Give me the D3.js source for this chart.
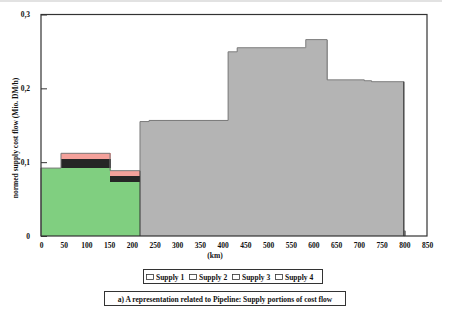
<!DOCTYPE html>
<html>
<head>
<meta charset="utf-8">
<script src="https://cdn.jsdelivr.net/npm/d3@7"></script>
<style>
  body { margin: 0; background: #fff; }
  text { font-family: "Liberation Serif", "DejaVu Serif", serif; font-weight: bold; fill: #111; }
</style>
</head>
<body>
<div id="chart"></div>
<script>
// segment borders along the pipeline (km)
const edges = [0, 44, 152, 218, 238, 412, 432, 583, 630, 712, 728, 799, 800, 802];
// supply portions per segment (Mio. DM/h)
const supply1 = [0.092, 0.092, 0.0727, 0, 0, 0, 0, 0, 0, 0, 0, 0, 0];
const supply2 = [0, 0.0127, 0.009, 0, 0, 0, 0, 0, 0, 0, 0, 0, 0];
const supply3 = [0, 0.0073, 0.0068, 0, 0, 0, 0, 0, 0, 0, 0, 0, 0];
const supply4 = [0, 0, 0, 0.155, 0.1565, 0.2495, 0.255, 0.266, 0.2115, 0.2103, 0.209, 0, 0.007];
const seriesNames = ["Supply 1", "Supply 2", "Supply 3", "Supply 4"];
const xTicks = d3.range(0, 851, 50);
const yTicks = [0, 0.1, 0.2, 0.3];

const colors = ["#80cf80", "#262626", "#f4a19b", "#b4b4b4"];

const W = 451, H = 314;
const svg = d3.select("#chart").append("svg")
  .attr("width", W).attr("height", H);

// thin grey strip at the very top
svg.append("rect").attr("x", 0).attr("y", 0).attr("width", 442).attr("height", 2).attr("fill", "#e2e2e2");

const x = d3.scaleLinear().domain([0, 850]).range([41, 427]);
const y = d3.scaleLinear().domain([0, 0.3]).range([236, 14.5]);

const rows = edges.slice(0, -1).map((e, i) => ({
  x0: e, x1: edges[i + 1],
  "Supply 1": supply1[i], "Supply 2": supply2[i], "Supply 3": supply3[i], "Supply 4": supply4[i]
}));

const stacked = d3.stack().keys(seriesNames)(rows);

svg.append("g").attr("shape-rendering", "crispEdges").selectAll("g")
  .data(stacked)
  .join("g")
  .attr("fill", (d, i) => colors[i])
  .selectAll("rect")
  .data(d => d.filter(s => s[1] - s[0] > 0))
  .join("rect")
  .attr("x", d => x(d.data.x0))
  .attr("width", d => x(d.data.x1) - x(d.data.x0) + 0.6)
  .attr("y", d => y(d[1]))
  .attr("height", d => y(d[0]) - y(d[1]));

// outline of the total
const totals = rows.map(r => ({ x0: r.x0, x1: r.x1, t: seriesNames.reduce((a, k) => a + r[k], 0) }));
let path = d3.path();
path.moveTo(x(0), y(0));
totals.forEach(r => { path.lineTo(x(r.x0), y(r.t)); path.lineTo(x(r.x1), y(r.t)); });
path.lineTo(x(edges[edges.length - 1]), y(0));
svg.append("path").attr("d", path.toString())
  .attr("fill", "none").attr("stroke", "#7a7a7a").attr("stroke-width", 1);

// dark edges between green and grey / at the end
[218, 799].forEach(k => {
  svg.append("line").attr("x1", x(k)).attr("x2", x(k)).attr("y1", y(0))
    .attr("y2", y(totals.find(r => r.x0 === k || r.x1 === k).t))
    .attr("stroke", "#333").attr("stroke-width", 1);
});

// frame
svg.append("rect").attr("x", 41).attr("y", 14.5).attr("width", 386).attr("height", 221.5)
  .attr("fill", "none").attr("stroke", "#333").attr("stroke-width", 1.2);

// axes
const yAxis = d3.axisLeft(y).tickValues(yTicks).tickSize(-6).tickPadding(11)
  .tickFormat(d => d === 0 ? "0" : d3.format(".1f")(d).replace(".", ","));
const gy = svg.append("g").attr("transform", "translate(41,0)").call(yAxis);
gy.select(".domain").remove();
gy.selectAll("line").attr("stroke", "#333");
gy.selectAll("text").attr("font-size", 7.5).attr("font-family", null).attr("fill", "#111");

const xAxis = d3.axisBottom(x).tickValues(xTicks).tickSize(0).tickPadding(7);
const gx = svg.append("g").attr("transform", "translate(0,236)").call(xAxis);
gx.select(".domain").remove();
gx.selectAll("text").attr("font-size", 7.5).attr("font-family", null).attr("fill", "#111");

svg.append("text").attr("x", 215).attr("y", 258).attr("text-anchor", "middle")
  .attr("font-size", 7.5).attr("fill", "#111").text("(km)");

svg.append("text").attr("transform", "translate(18,138) rotate(-90)")
  .attr("text-anchor", "middle").attr("font-size", 7.5).attr("fill", "#111")
  .text("normed supply cost flow (Mio. DM/h)");

// legend
const lg = svg.append("g");
lg.append("rect").attr("x", 143.5).attr("y", 269.5).attr("width", 179).attr("height", 14)
  .attr("fill", "#fff").attr("stroke", "#333").attr("stroke-width", 1);
seriesNames.forEach((n, i) => {
  const lx = 146 + i * 43;
  lg.append("rect").attr("x", lx + 0.5).attr("y", 274.5).attr("width", 7).attr("height", 5)
    .attr("fill", "#fff").attr("stroke", "#333").attr("stroke-width", 0.8);
  lg.append("text").attr("x", lx + 10).attr("y", 279.5).attr("font-size", 7.5)
    .attr("fill", "#111").text(n);
});

// caption
svg.append("rect").attr("x", 104.5).attr("y", 291.5).attr("width", 241).attr("height", 14)
  .attr("fill", "#fff").attr("stroke", "#333").attr("stroke-width", 1);
svg.append("text").attr("x", 225).attr("y", 301.5).attr("text-anchor", "middle")
  .attr("font-size", 7.5).attr("fill", "#111")
  .text("a) A representation related to Pipeline: Supply portions of cost flow");
</script>
</body>
</html>
